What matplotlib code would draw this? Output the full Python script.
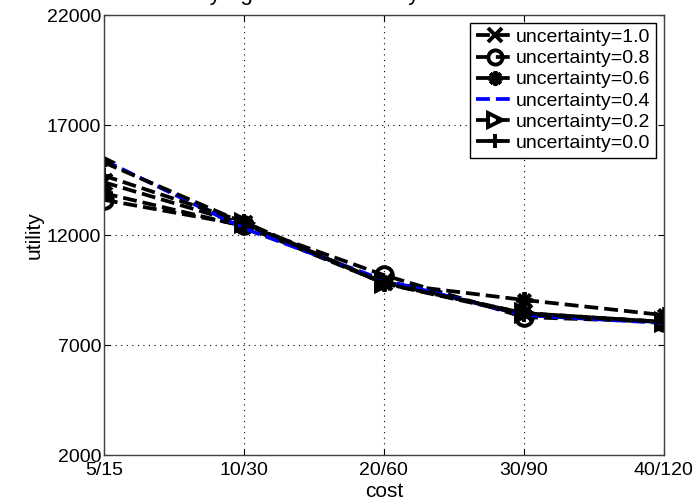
import matplotlib
matplotlib.use("Agg")
import matplotlib.pyplot as plt

plt.rcParams['font.family'] = ['Liberation Sans', 'DejaVu Sans']

# данные
costs = ['5/15', '10/30', '20/60', '30/90', '40/120']
labels = ['uncertainty=1.0', 'uncertainty=0.8', 'uncertainty=0.6',
          'uncertainty=0.4', 'uncertainty=0.2', 'uncertainty=0.0']
u10 = [14400, 12500, 9850, 8450, 8050]
u08 = [13600, 12450, 10180, 8270, 8050]
u06 = [13900, 12400, 9820, 9050, 8360]
u04 = [15400, 12300, 9950, 8360, 8000]
u02 = [15300, 12550, 9800, 8450, 8050]
u00 = [14700, 12600, 9800, 8400, 8050]
yticks = [2000, 7000, 12000, 17000, 22000]

series = [u10, u08, u06, u04, u02, u00]
markers = ['x', 'o', (8, 2, 0), None, '>', '+']
colors = ['black', 'black', 'black', '#0000ff', 'black', 'black']

fig = plt.figure(figsize=(6.97, 5.04), dpi=100)
ax = fig.add_axes([0.149, 0.0972, 0.8034, 0.873])

x = range(len(costs))
for vals, lab, m, c in zip(series, labels, markers, colors):
    ax.plot(x, vals, linestyle='--', color=c, linewidth=2.7, label=lab,
            marker=m, markersize=12, markeredgewidth=2.8,
            markerfacecolor='none', markeredgecolor='black')

ax.set_xlim(0, len(costs) - 1)
ax.set_ylim(2000, 22000)
ax.set_xticks(list(x))
ax.set_xticklabels(costs)
ax.set_yticks(yticks)
ax.tick_params(direction='in', labelsize=14, length=4, width=0.8,
               top=True, right=True)
ax.tick_params(axis='x', pad=5)
ax.tick_params(axis='y', pad=2)
ax.grid(True, linestyle=(0, (1, 4)), color='black', linewidth=0.8)
for s in ax.spines.values():
    s.set_color('#404040')
    s.set_linewidth(1)

ax.set_xlabel('cost', fontsize=15, labelpad=2)
ax.set_ylabel('utility', fontsize=15, labelpad=2)

leg = ax.legend(loc='upper right', fontsize=14, handlelength=2.0,
                handletextpad=0.05, labelspacing=0.18, borderpad=0.3,
                borderaxespad=0.4, fancybox=False, framealpha=1,
                markerscale=0.85)
leg.get_frame().set_edgecolor('black')
leg.get_frame().set_linewidth(1)

# заголовок почти полностью за верхним краем
fig.text(0.42, 1.0, 'Utility Against Uncertainty', fontsize=16,
         ha='center', va='baseline')

fig.savefig('out.png', dpi=100)
